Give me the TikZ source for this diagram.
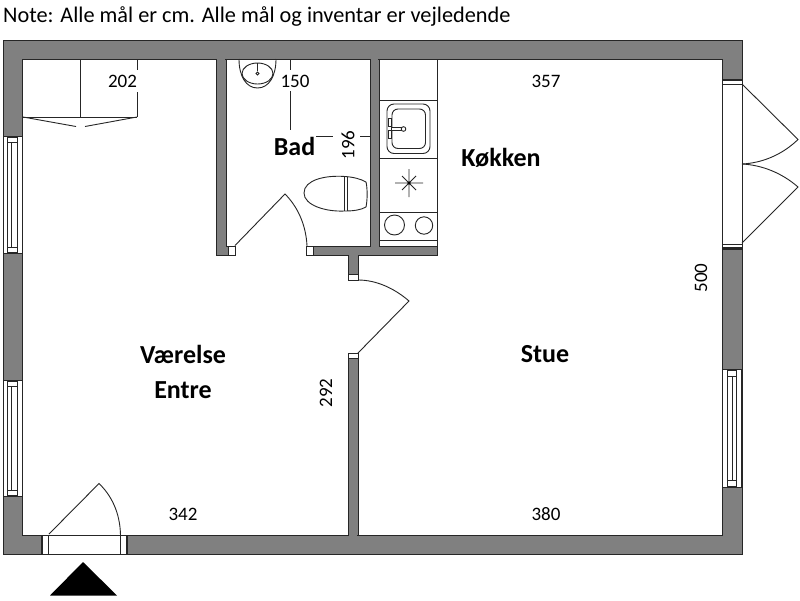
\documentclass[tikz,border=0pt]{standalone}
\usepackage{fontspec}
\setmainfont{Carlito}
\tikzset{
  wallfill/.style={fill=wallgray,draw=black!85,line width=1pt},
  fix/.style={draw=black!85,line width=1pt,fill=white},
  thin line/.style={draw=black!85,line width=0.9pt},
  heavy/.style={draw=black!85,line width=1.5pt},
  dim/.style={font=\fontsize{19}{21}\selectfont,inner sep=0pt},
  room/.style={font=\fontsize{26}{28}\selectfont\bfseries,inner sep=0pt},
}
\definecolor{wallgray}{RGB}{128,128,128}
\begin{document}
\begin{tikzpicture}[x=1pt,y=-1pt]
\useasboundingbox (0,0) rectangle (800,600);
\fill[white] (0,0) rectangle (800,600);
% outer walls
\path[wallfill,even odd rule] (3,40) rectangle (742,554.5) (22.5,59) rectangle (722,535);
% interior walls
\path[wallfill] (216,59) -- (216,255) -- (228,255) -- (228,246) -- (226,246) -- (226,59) -- cycle;
\path[wallfill] (370,59) -- (370,246) -- (313,246) -- (313,255) -- (348,255) -- (348,274) -- (358,274) -- (358,255) -- (437,255) -- (437,246) -- (379,246) -- (379,59) -- cycle;
\path[wallfill] (348,358) rectangle (358,535);
\fill[wallgray] (349,534) rectangle (357,536);
\fill[wallgray] (217,58) rectangle (225,60);
\fill[wallgray] (371,58) rectangle (378,60);
% door posts
\path[fix] (228,246) rectangle (235,255);
\path[fix] (306,246) rectangle (313,255);
\path[fix] (348,274) rectangle (358,280);
\path[fix] (348,353) rectangle (358,358);
% left windows
\foreach \a/\b in {136/253,380/496}{
  \path[fix] (3,\a) rectangle (22.5,\b);
  \path[fix] (7.5,\a+1.5) rectangle (17.5,\b-1);
  \draw[thin line] (7.5,\a+6) -- (17.5,\a+6) (7.5,\b-6) -- (17.5,\b-6) (11,\a+6) -- (11,\b-6);
}
% right window
\path[fix] (722,369) rectangle (741.5,487);
\path[fix] (727.5,370) rectangle (736,486);
\draw[thin line] (727.5,376) -- (736,376) (727.5,480) -- (736,480) (732.7,376) -- (732.7,480);
% right double door
\path[fix] (722,79) rectangle (742,249);
\draw[heavy] (722,80) -- (742,80) (722,248) -- (742,248);
\draw[thin line] (722,84) -- (742,84) (722,244) -- (742,244);
\draw[thin line] (742,84) -- (798,139.5) .. controls (782,155) and (762,163) .. (742,164);
\draw[thin line] (742,164) .. controls (762,165) and (782,173) .. (798,187) -- (742,243);
% entrance door
\path[fix] (42,535) rectangle (127,554.5);
\draw[heavy] (42,535) -- (42,554.5) (127,535) -- (127,554.5);
\draw[thin line] (48.5,535) -- (48.5,554.5) (120.5,535) -- (120.5,554.5);
\draw[thin line] (49,534) -- (99,483.5) .. controls (111,495) and (120,512) .. (120.5,535);
\fill[black] (83,562) -- (117,595.5) -- (50,595.5) -- cycle;
% bath door
\draw[thin line] (235,245.5) -- (285,194) .. controls (297,206) and (306,224) .. (307,246);
% inner door
\draw[thin line] (358,280) .. controls (376,280) and (394,288) .. (409,301) -- (358,353);
% wardrobe
\draw[thin line] (80,59) -- (80,117) (22.5,117) -- (137,117);
\draw[thin line] (137,59) -- (137,70) (137,92) -- (137,117);
\draw[thin line] (23,117) -- (76,126.5) (85,126.5) -- (137,117);
% bath sink
\draw[thin line] (239,59) .. controls (239,76) and (246,88) .. (257.5,88) .. controls (269,88) and (276,76) .. (276,59);
\draw[thin line] (257.5,73.5) ellipse [x radius=15.5,y radius=10.5];
\draw[thin line] (257.5,63) -- (257.5,71);
\draw[thin line] (257.5,73.5) circle (1.5);
% toilet
\draw[thin line] (345,176.5) .. controls (325,175) and (304,180) .. (304,193) .. controls (304,205) and (325,212) .. (345,211) .. controls (353,211) and (361,210) .. (366,207) .. controls (367.5,200) and (367.5,188) .. (366,182) .. controls (361,179) and (353,177) .. (345,176.5);
\draw[thin line] (344.5,176.5) -- (344.5,211) (347.7,177) -- (347.7,211);
% kitchen
\draw[thin line] (379,59) -- (437,59) -- (437,246);
\draw[thin line] (379,100) -- (437,100) (379,158) -- (437,158) (379,212) -- (437,212) (379,240) -- (437,240);
\draw[thin line,rounded corners=7pt] (387,104) rectangle (430,153.5);
\draw[thin line,rounded corners=6pt] (392,109) rectangle (425.5,148.5);
\draw[thin line,fill=white] (388,118) rectangle (391,126) (388,130) rectangle (391,138);
\draw[thin line,fill=white] (391,127.5) rectangle (401.5,130.5);
\draw[thin line,fill=white] (403.5,129) circle (2.3);
\draw[thin line] (409,169) -- (409,197) (395,183) -- (423,183) (402,176) -- (416,190) (402,190) -- (416,176);
\fill[black] (409,183) circle (1.5);
\draw[thin line] (394.5,225) circle (10);
\draw[thin line] (424,225.5) circle (8.7);
% dimension lines
\draw[thin line] (290,59) -- (290,70) (290,91) -- (290,130);
\draw[thin line] (316,136) -- (333,136) (360,136) -- (370,136);
% texts
\node[anchor=west,inner sep=0pt,font=\fontsize{22.3}{24}\selectfont] (note) at (3,17) {Note: Alle mål er cm. Alle mål og inventar er vejledende};
\node[dim] (d202) at (122.5,81) {202};
\node[dim] (d150) at (295,81) {150};
\node[dim] (d357) at (546,81) {357};
\node[dim] (d342) at (183,514) {342};
\node[dim] (d380) at (546,514) {380};
\node[dim,rotate=90] (d196) at (348,145) {196};
\node[dim,rotate=90] (d500) at (701,278) {500};
\node[dim,rotate=90] (d292) at (326,393) {292};
\node[room] (bad) at (294.5,146) {Bad};
\node[room] (kok) at (501,158) {Køkken};
\node[room] (vae) at (183,354) {Værelse};
\node[room] (ent) at (183,390) {Entre};
\node[room] (stue) at (545,354) {Stue};
\end{tikzpicture}
\end{document}
